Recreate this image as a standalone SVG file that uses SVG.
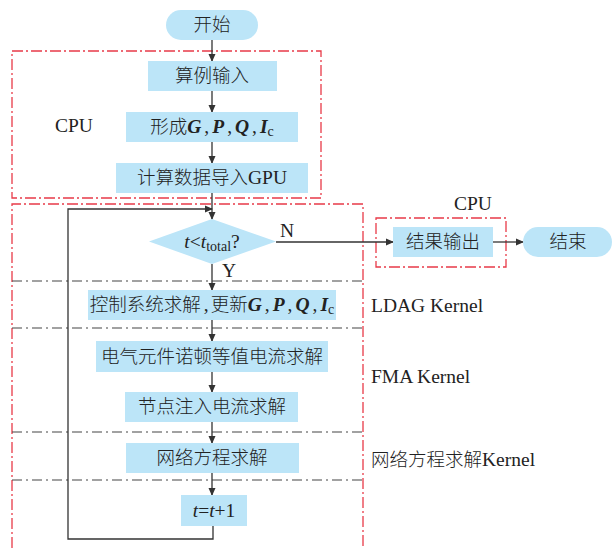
<svg xmlns="http://www.w3.org/2000/svg" width="613" height="548" viewBox="0 0 613 548">
<style>
.box{fill:#bce5f8;stroke:none}
.red{fill:none;stroke:#e83a48;stroke-width:1.3;stroke-dasharray:11 3 2 3}
.gray{fill:none;stroke:#444;stroke-width:1.2;stroke-dasharray:10 4 2 4}
.ln{fill:none;stroke:#333;stroke-width:1.3}
.cn{font-family:"Noto Sans CJK SC","Liberation Serif",serif;font-size:18.5px;font-weight:300;fill:#222;text-anchor:middle}
.lat{font-family:"Liberation Serif","Noto Sans CJK SC",serif;font-size:19.5px;fill:#222}
.bi{font-family:"Liberation Serif",serif;font-weight:bold;font-style:italic;font-size:19.5px}
.it{font-family:"Liberation Serif",serif;font-style:italic;font-weight:normal;font-size:19.5px}
.rm{font-family:"Liberation Serif",serif;font-weight:normal;font-size:19.5px}
.sub{font-family:"Liberation Serif",serif;font-weight:normal;font-size:14px}
</style>
<defs>
<marker id="ah" markerWidth="8" markerHeight="8" refX="7" refY="4" orient="auto" markerUnits="userSpaceOnUse">
<path d="M0,0.5 L8,4 L0,7.5 Z" fill="#333"/>
</marker>
</defs>
<g id="regions">
<rect class="red" x="12" y="51" width="309" height="147"/>
<path class="red" d="M12,548 V204 H363 V548"/>
<rect class="red" x="376" y="218" width="130" height="49"/>
<line class="gray" x1="12" y1="281" x2="362" y2="281"/>
<line class="gray" x1="12" y1="328" x2="362" y2="328"/>
<line class="gray" x1="12" y1="432" x2="362" y2="432"/>
<line class="gray" x1="12" y1="480" x2="362" y2="480"/>
<text class="lat" x="55" y="132">CPU</text>
<text class="lat" x="454" y="210">CPU</text>
<text class="lat" x="371" y="312">LDAG Kernel</text>
<text class="lat" x="371" y="383">FMA Kernel</text>
<text class="lat" x="371" y="466"><tspan font-family="Noto Sans CJK SC" font-size="18.5" font-weight="300">网络方程求解</tspan>Kernel</text>
</g>
<g id="connectors">
<line class="ln" x1="212" y1="40" x2="212" y2="61" marker-end="url(#ah)"/>
<line class="ln" x1="212" y1="91" x2="212" y2="112" marker-end="url(#ah)"/>
<line class="ln" x1="212" y1="142" x2="212" y2="163" marker-end="url(#ah)"/>
<line class="ln" x1="212" y1="193" x2="212" y2="219" marker-end="url(#ah)"/>
<path class="ln" d="M213,526 V539 H68 V209 H212" marker-end="url(#ah)"/>
<line class="ln" x1="276" y1="242" x2="393" y2="242" marker-end="url(#ah)"/>
<line class="ln" x1="493" y1="242" x2="523" y2="242" marker-end="url(#ah)"/>
<line class="ln" x1="212" y1="264" x2="212" y2="290" marker-end="url(#ah)"/>
<line class="ln" x1="212" y1="320" x2="212" y2="341" marker-end="url(#ah)"/>
<line class="ln" x1="212" y1="372" x2="212" y2="392" marker-end="url(#ah)"/>
<line class="ln" x1="212" y1="422" x2="212" y2="443" marker-end="url(#ah)"/>
<line class="ln" x1="212" y1="473" x2="212" y2="495" marker-end="url(#ah)"/>
<text class="lat" x="280" y="237">N</text>
<text class="lat" x="222" y="277">Y</text>
</g>
<g id="start"><rect class="box" x="166" y="10" width="92" height="30" rx="15"/><text class="cn" x="212" y="31">开始</text></g>
<g id="input"><rect class="box" x="148" y="61" width="129" height="30"/><text class="cn" x="212" y="82">算例输入</text></g>
<g id="form"><rect class="box" x="126" y="112" width="172" height="30"/><text class="cn" x="212" y="133">形成<tspan class="bi">G</tspan><tspan class="rm" dx="3">,</tspan><tspan class="bi" dx="3">P</tspan><tspan class="rm" dx="3">,</tspan><tspan class="bi" dx="3">Q</tspan><tspan class="rm" dx="3">,</tspan><tspan class="bi" dx="3">I</tspan><tspan class="sub" dy="3">c</tspan></text></g>
<g id="togpu"><rect class="box" x="116" y="163" width="192" height="30"/><text class="cn" x="212" y="184">计算数据导入<tspan class="rm">GPU</tspan></text></g>
<g id="decision"><polygon class="box" points="149,241.5 212,219 276,241.5 212,264"/><text class="cn" x="212" y="248"><tspan class="it">t</tspan><tspan class="rm">&lt;</tspan><tspan class="it">t</tspan><tspan class="sub" dy="3">total</tspan><tspan class="rm" dy="-3">?</tspan></text></g>
<g id="output"><rect class="box" x="393" y="227" width="100" height="30"/><text class="cn" x="443" y="248">结果输出</text></g>
<g id="end"><rect class="box" x="523" y="227" width="89" height="30" rx="15"/><text class="cn" x="568" y="248">结束</text></g>
<g id="control"><rect class="box" x="88" y="290" width="248" height="30"/><text class="cn" x="212" y="311">控制系统求解<tspan class="rm" dx="3">,</tspan><tspan dx="2">更新</tspan><tspan class="bi">G</tspan><tspan class="rm" dx="3">,</tspan><tspan class="bi" dx="3">P</tspan><tspan class="rm" dx="3">,</tspan><tspan class="bi" dx="3">Q</tspan><tspan class="rm" dx="3">,</tspan><tspan class="bi" dx="3">I</tspan><tspan class="sub" dy="3">c</tspan></text></g>
<g id="norton"><rect class="box" x="96" y="341" width="232" height="31"/><text class="cn" x="212" y="363" textLength="222" lengthAdjust="spacing">电气元件诺顿等值电流求解</text></g>
<g id="inject"><rect class="box" x="125" y="392" width="173" height="30"/><text class="cn" x="212" y="413">节点注入电流求解</text></g>
<g id="network"><rect class="box" x="126" y="443" width="173" height="30"/><text class="cn" x="212" y="464">网络方程求解</text></g>
<g id="incr"><rect class="box" x="181" y="495" width="66" height="31"/><text class="cn" x="214" y="517"><tspan class="it">t</tspan><tspan class="rm">=</tspan><tspan class="it">t</tspan><tspan class="rm">+1</tspan></text></g>
</svg>
